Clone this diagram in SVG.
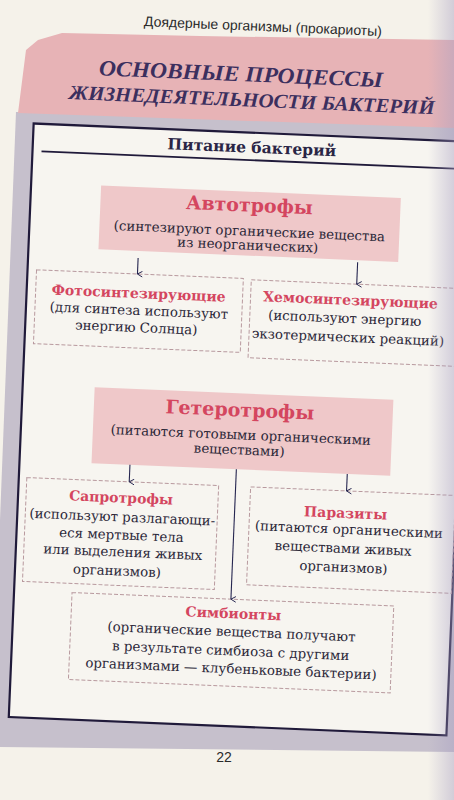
<svg xmlns="http://www.w3.org/2000/svg" width="454" height="800" viewBox="0 0 454 800">
<defs>
<style>
.pg{font-family:"Liberation Sans",Arial,sans-serif;font-size:14px;fill:#2a2a2a;text-anchor:middle}
.ttl{font-family:"Liberation Serif","Times New Roman",serif;font-weight:bold;font-style:italic;font-size:22px;fill:#3b2f5e;text-anchor:middle}
.hd{font-family:"DejaVu Serif","Liberation Serif",serif;font-weight:bold;font-size:15.5px;fill:#2a2545;text-anchor:middle}
.big{font-family:"DejaVu Serif","Liberation Serif",serif;font-weight:bold;font-size:19px;fill:#d4465f;text-anchor:middle}
.sm{font-family:"DejaVu Serif","Liberation Serif",serif;font-weight:bold;font-size:14px;fill:#d4465f;text-anchor:middle}
.tx{font-family:"DejaVu Serif","Liberation Serif",serif;font-size:13.4px;fill:#2b2738;text-anchor:middle}
.pink{fill:#efc8c9}
.dash{fill:none;stroke:#b8999e;stroke-width:1;stroke-dasharray:4 2}
.ln{stroke:#262650;stroke-width:1.1;fill:none}
</style>
<marker id="ah" viewBox="0 0 10 10" refX="5" refY="9" markerWidth="7" markerHeight="7" orient="auto-start-reverse" markerUnits="userSpaceOnUse">
<path d="M1,2 L5,9 L9,2" fill="none" stroke="#262650" stroke-width="1.4"/>
</marker>
<linearGradient id="shade" x1="0" y1="0" x2="1" y2="0">
<stop offset="0" stop-color="#a79fc2" stop-opacity="0"/>
<stop offset="1" stop-color="#a79fc2" stop-opacity="0.45"/>
</linearGradient>
</defs>
<rect x="0" y="0" width="454" height="800" fill="#f5f2ea"/>
<polygon points="16,112 454,120 454,752 0,747 0,520" fill="#c6c0cc"/>
<polygon points="26,50 38,40 62,33 200,36 454,40 454,128 18,113" fill="#e7b3b6"/>
<g transform="rotate(2.4 230 430)">
<text class="pg" x="246" y="30">Доядерные организмы (прокариоты)</text>
<g id="title">
<text class="ttl" x="226" y="81" textLength="284" lengthAdjust="spacingAndGlyphs">ОСНОВНЫЕ ПРОЦЕССЫ</text>
<text class="ttl" x="238" y="106" style="font-size:20px" textLength="366" lengthAdjust="spacingAndGlyphs">ЖИЗНЕДЕЯТЕЛЬНОСТИ БАКТЕРИЙ</text>
</g>
<g id="frame">
<rect x="21" y="132" width="438" height="594" fill="#f7f5f0" stroke="#201a3a" stroke-width="2.2"/>
<line x1="30" y1="159.5" x2="459" y2="159.5" stroke="#201a3a" stroke-width="1.8"/>
<text class="hd" x="240" y="152">Питание бактерий</text>
</g>
<g id="autotrophs">
<rect class="pink" x="91" y="191" width="300" height="64"/>
<text class="big" x="240" y="211">Автотрофы</text>
<text class="tx" x="241" y="235">(синтезируют органические вещества</text>
<text class="tx" x="240" y="249">из неорганических)</text>
</g>
<g id="photo">
<rect class="dash" x="30" y="278" width="207" height="74"/>
<text class="sm" x="133" y="302">Фотосинтезирующие</text>
<text class="tx" x="134" y="319">(для синтеза используют</text>
<text class="tx" x="132" y="336">энергию Солнца)</text>
</g>
<g id="chemo">
<rect class="dash" x="245" y="279" width="213" height="78"/>
<text class="sm" x="345" y="300">Хемосинтезирующие</text>
<text class="tx" x="340" y="318">(используют энергию</text>
<text class="tx" x="344" y="337">экзотермических реакций)</text>
</g>
<g id="heterotrophs">
<rect class="pink" x="93" y="393" width="299" height="76"/>
<text class="big" x="239" y="416">Гетеротрофы</text>
<text class="tx" x="241" y="439">(питаются готовыми органическими</text>
<text class="tx" x="240" y="454">веществами)</text>
</g>
<g id="saprotrophs">
<rect class="dash" x="29" y="486" width="192" height="104"/>
<text class="sm" x="124" y="507">Сапротрофы</text>
<text class="tx" x="126" y="526">(используют разлагающи-</text>
<text class="tx" x="126" y="544">еся мертвые тела</text>
<text class="tx" x="128" y="561">или выделения живых</text>
<text class="tx" x="123" y="580">организмов)</text>
</g>
<g id="parasites">
<rect class="dash" x="253" y="486" width="205" height="98"/>
<text class="sm" x="349" y="513">Паразиты</text>
<text class="tx" x="353" y="529">(питаются органическими</text>
<text class="tx" x="348" y="548">веществами живых</text>
<text class="tx" x="349" y="567">организмов)</text>
</g>
<g id="symbionts">
<rect class="dash" x="79" y="599" width="322" height="87"/>
<text class="sm" x="241" y="618">Симбионты</text>
<text class="tx" x="240" y="636">(органические вещества получают</text>
<text class="tx" x="240" y="655">в результате симбиоза с другими</text>
<text class="tx" x="241" y="673">организмами — клубеньковые бактерии)</text>
</g>
<g id="connectors">
<line class="ln" x1="131" y1="262" x2="131" y2="278" marker-end="url(#ah)"/>
<line class="ln" x1="350.5" y1="257" x2="350.5" y2="279" marker-end="url(#ah)"/>
<line class="ln" x1="131.5" y1="469" x2="131.5" y2="486" marker-end="url(#ah)"/>
<line class="ln" x1="349" y1="469" x2="349" y2="486" marker-end="url(#ah)"/>
<line class="ln" x1="238" y1="469" x2="238" y2="599" marker-end="url(#ah)"/>
</g>
</g>
<text class="pg" x="224" y="762">22</text>
<rect x="428" y="0" width="26" height="800" fill="url(#shade)"/>
</svg>
